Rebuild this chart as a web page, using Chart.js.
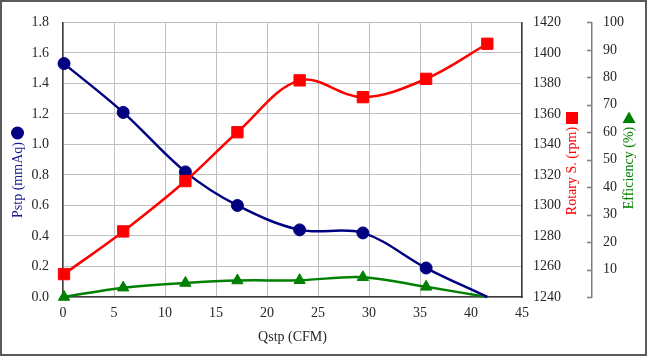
<!DOCTYPE html>
<html><head><meta charset="utf-8">
<script src="https://cdn.jsdelivr.net/npm/chart.js@4/dist/chart.umd.min.js"></script>
<style>html,body{margin:0;padding:0;background:#fff;overflow:hidden}#wrap{width:647px;height:356px;position:relative}canvas{display:block}</style>
</head><body><div id="wrap"><canvas id="c" width="647" height="356"></canvas></div>
<script>
// ---- data ----
const flowCfm        = [0.1, 5.9, 12.0, 17.1, 23.2, 29.4, 35.6, 41.6];
const pressureMmAq   = [1.53, 1.21, 0.82, 0.60, 0.44, 0.42, 0.19, 0.00];
const rotarySpeedRpm = [1255, 1283, 1316, 1348, 1382, 1371, 1383, 1406];
const efficiencyPct  = [0.0, 3.4, 5.1, 6.0, 6.1, 7.2, 3.7, 0.0];

const xTitle = 'Qstp (CFM)';
const pressureTitle = 'Pstp (mmAq)';
const rpmTitle = 'Rotary S. (rpm)';
const effTitle = 'Efficiency (%)';

const xRange = [0, 45, 5];
const pressureRange = [0, 1.8, 0.2];
const rpmRange = [1240, 1420, 20];
const effRange = [0, 100, 10];

const NAVY = '#000080', RED = '#ff0000', GREEN = '#008000';
const FONT = '"Liberation Serif", "Times New Roman", serif';

function pts(ys) { return flowCfm.map((x, i) => ({x, y: ys[i]})); }
const lastHidden = (r) => flowCfm.map((_, i) => i === flowCfm.length - 1 ? 0 : r);

Chart.defaults.font.family = FONT;
Chart.defaults.font.size = 14;
Chart.defaults.color = '#262626';

function vtext(ctx, text, x, y, color) {
  ctx.save();
  ctx.translate(x, y);
  ctx.rotate(-Math.PI / 2);
  ctx.fillStyle = color;
  ctx.font = '14px ' + FONT;
  ctx.textAlign = 'center';
  ctx.textBaseline = 'middle';
  ctx.fillText(text, 0, 0);
  ctx.restore();
}

const extras = {
  id: 'extras',
  afterDraw(chart) {
    const ctx = chart.ctx;
    ctx.save();
    // outer frame
    ctx.strokeStyle = '#5a5a5a';
    ctx.lineWidth = 2;
    ctx.strokeRect(1, 1, 645, 354);
    // efficiency axis tick marks (inside, pointing left)
    const s = chart.scales.yEff;
    ctx.strokeStyle = '#7f7f7f';
    ctx.lineWidth = 1.5;
    s.ticks.forEach(t => {
      const y = Math.round(s.getPixelForValue(t.value)) + 0.5;
      ctx.beginPath(); ctx.moveTo(s.left - 5, y); ctx.lineTo(s.left, y); ctx.stroke();
    });
    // axis titles with markers
    vtext(ctx, pressureTitle, 18, 180, '#1a1a8a');
    ctx.fillStyle = NAVY;
    ctx.beginPath(); ctx.arc(17.5, 133, 6.5, 0, Math.PI * 2); ctx.fill();

    vtext(ctx, rpmTitle, 572, 171, RED);
    ctx.fillStyle = RED;
    ctx.fillRect(566, 112, 12, 12);

    vtext(ctx, effTitle, 629, 168, GREEN);
    ctx.fillStyle = GREEN;
    ctx.beginPath(); ctx.moveTo(629, 111.5); ctx.lineTo(635.5, 123); ctx.lineTo(622.5, 123); ctx.closePath(); ctx.fill();
    ctx.restore();
  }
};

new Chart(document.getElementById('c'), {
  type: 'scatter',
  data: {
    datasets: [
      {
        label: rpmTitle, data: pts(rotarySpeedRpm), yAxisID: 'yRpm', order: 0,
        showLine: true, tension: 0.35, borderColor: RED, backgroundColor: RED, borderWidth: 2.5,
        pointStyle: 'rect', pointRadius: 8, pointBorderWidth: 1, pointBorderColor: RED, clip: false
      },
      {
        label: pressureTitle, data: pts(pressureMmAq), yAxisID: 'y', order: 1,
        showLine: true, tension: 0.35, borderColor: NAVY, backgroundColor: NAVY, borderWidth: 2.5,
        pointStyle: 'circle', pointRadius: lastHidden(6), pointBorderWidth: 1, pointBorderColor: NAVY, clip: false
      },
      {
        label: effTitle, data: pts(efficiencyPct), yAxisID: 'yEff', order: 2,
        showLine: true, tension: 0.35, borderColor: GREEN, backgroundColor: GREEN, borderWidth: 2.5,
        pointStyle: 'triangle', pointRadius: lastHidden(6.5), pointBorderWidth: 1, pointBorderColor: GREEN, clip: false
      }
    ]
  },
  options: {
    responsive: false,
    animation: false,
    devicePixelRatio: 1,
    layout: { padding: { top: 19, left: 0, right: 0, bottom: 0 } },
    plugins: { legend: { display: false }, tooltip: { enabled: false } },
    scales: {
      x: {
        type: 'linear', position: 'bottom', min: xRange[0], max: xRange[1],
        ticks: { stepSize: xRange[2], padding: 8, maxRotation: 0, callback: v => String(v) },
        grid: { color: '#bfbfbf', lineWidth: 1, drawTicks: false },
        border: { display: true, color: '#404040', width: 1.5 },
        title: { display: true, text: xTitle, color: '#262626', font: { size: 14 }, padding: { top: 0, bottom: 10 } },
        afterFit: (s) => { s.height = 59; }
      },
      y: {
        type: 'linear', position: 'left', min: pressureRange[0], max: pressureRange[1],
        ticks: { stepSize: pressureRange[2], padding: 14, callback: v => Number(v).toFixed(1) },
        grid: { color: '#bfbfbf', lineWidth: 1, drawTicks: false },
        border: { display: true, color: '#404040', width: 1.5 },
        afterFit: (s) => { s.width = 63; }
      },
      yRpm: {
        type: 'linear', position: 'right', weight: 0, min: rpmRange[0], max: rpmRange[1],
        ticks: { stepSize: rpmRange[2], padding: 11, callback: v => String(v) },
        grid: { drawOnChartArea: false, drawTicks: false },
        border: { display: true, color: '#404040', width: 1.5 },
        afterFit: (s) => { s.width = 70; }
      },
      yEff: {
        type: 'linear', position: 'right', weight: 1, min: effRange[0], max: effRange[1],
        ticks: { stepSize: effRange[2], padding: 11, callback: v => v === 0 ? '' : String(v) },
        grid: { drawOnChartArea: false, drawTicks: false },
        border: { display: true, color: '#7f7f7f', width: 1.5 },
        afterFit: (s) => { s.width = 55; }
      }
    }
  },
  plugins: [extras]
});
</script>
</body></html>
